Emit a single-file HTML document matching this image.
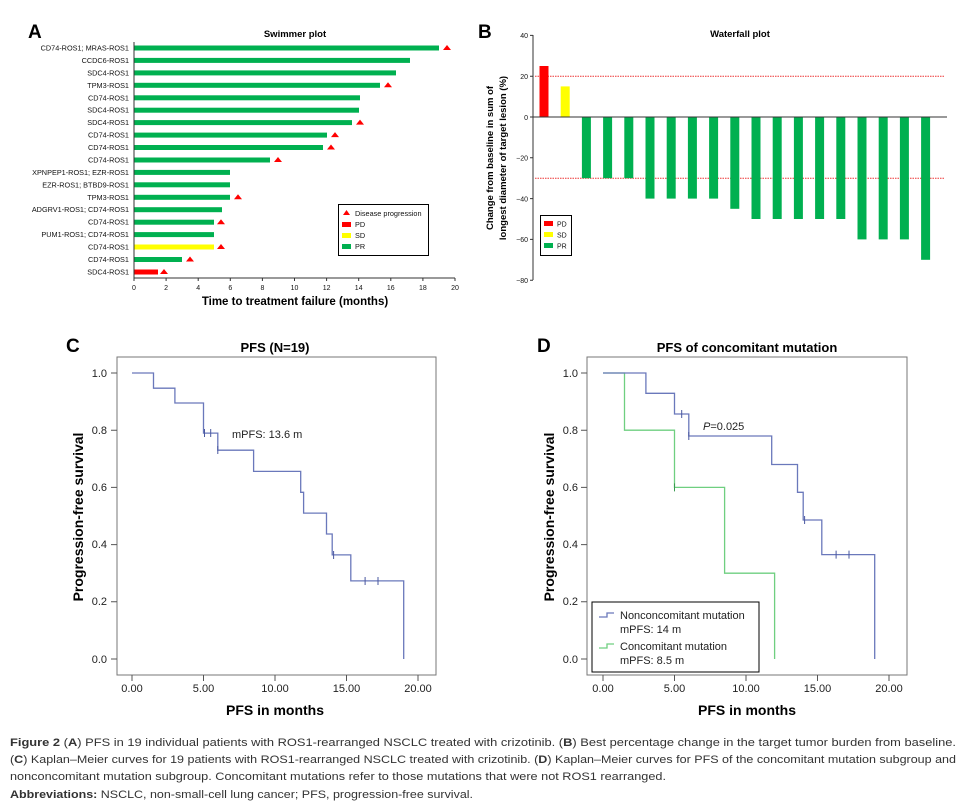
<!DOCTYPE html>
<html><head><meta charset="utf-8"><style>
html,body{margin:0;padding:0;background:#fff;}
svg{display:block;font-family:"Liberation Sans",Arial,sans-serif;}
</style></head><body>
<svg width="966" height="809" viewBox="0 0 966 809" xmlns="http://www.w3.org/2000/svg">
<!-- Panel A -->
<text x="28" y="38" font-size="19" font-weight="bold">A</text>
<text x="295" y="37" font-size="9.5" font-weight="bold" text-anchor="middle">Swimmer plot</text>
<g fill="#00b050">
<rect x="134" y="45.5" width="305" height="5"/>
<rect x="134" y="57.9" width="276" height="5"/>
<rect x="134" y="70.4" width="262" height="5"/>
<rect x="134" y="82.8" width="246" height="5"/>
<rect x="134" y="95.3" width="226" height="5"/>
<rect x="134" y="107.7" width="225" height="5"/>
<rect x="134" y="120.1" width="218" height="5"/>
<rect x="134" y="132.6" width="193" height="5"/>
<rect x="134" y="145" width="189" height="5"/>
<rect x="134" y="157.5" width="136" height="5"/>
<rect x="134" y="169.9" width="96" height="5"/>
<rect x="134" y="182.3" width="96" height="5"/>
<rect x="134" y="194.8" width="96" height="5"/>
<rect x="134" y="207.2" width="88" height="5"/>
<rect x="134" y="219.7" width="80" height="5"/>
<rect x="134" y="232.1" width="80" height="5"/>
<rect x="134" y="257" width="48" height="5"/>
</g>
<rect x="134" y="244.5" width="80" height="5" fill="#ffff00"/>
<rect x="134" y="269.5" width="24" height="5" fill="#ff0000"/>
<g fill="#ff0000">
<polygon points="443,50 451,50 447,45"/>
<polygon points="384,87.3 392,87.3 388,82.3"/>
<polygon points="356,124.6 364,124.6 360,119.6"/>
<polygon points="331,137.1 339,137.1 335,132.1"/>
<polygon points="327,149.5 335,149.5 331,144.5"/>
<polygon points="274,162 282,162 278,157"/>
<polygon points="234,199.3 242,199.3 238,194.3"/>
<polygon points="217,224.2 225,224.2 221,219.2"/>
<polygon points="217,249 225,249 221,244"/>
<polygon points="186,261.5 194,261.5 190,256.5"/>
<polygon points="160,274 168,274 164,269"/>
</g>
<g font-size="7.3" text-anchor="end" fill="#111">
<text x="129" y="50.5">CD74-ROS1; MRAS-ROS1</text>
<text x="129" y="62.9">CCDC6-ROS1</text>
<text x="129" y="75.4">SDC4-ROS1</text>
<text x="129" y="87.8">TPM3-ROS1</text>
<text x="129" y="100.3">CD74-ROS1</text>
<text x="129" y="112.7">SDC4-ROS1</text>
<text x="129" y="125.1">SDC4-ROS1</text>
<text x="129" y="137.6">CD74-ROS1</text>
<text x="129" y="150">CD74-ROS1</text>
<text x="129" y="162.5">CD74-ROS1</text>
<text x="129" y="174.9">XPNPEP1-ROS1; EZR-ROS1</text>
<text x="129" y="187.3">EZR-ROS1; BTBD9-ROS1</text>
<text x="129" y="199.8">TPM3-ROS1</text>
<text x="129" y="212.2">ADGRV1-ROS1; CD74-ROS1</text>
<text x="129" y="224.7">CD74-ROS1</text>
<text x="129" y="237.1">PUM1-ROS1; CD74-ROS1</text>
<text x="129" y="249.5">CD74-ROS1</text>
<text x="129" y="262">CD74-ROS1</text>
<text x="129" y="274.5">SDC4-ROS1</text>
</g>
<g stroke="#333" stroke-width="1">
<line x1="134" y1="42" x2="134" y2="278"/>
<line x1="134" y1="278" x2="455" y2="278"/>
<path d="M134 278v3M166.1 278v3M198.2 278v3M230.3 278v3M262.4 278v3M294.5 278v3M326.6 278v3M358.7 278v3M390.8 278v3M422.9 278v3M455 278v3"/>
</g>
<g font-size="7" text-anchor="middle" fill="#111">
<text x="134" y="290">0</text><text x="166.1" y="290">2</text><text x="198.2" y="290">4</text><text x="230.3" y="290">6</text><text x="262.4" y="290">8</text><text x="294.5" y="290">10</text><text x="326.6" y="290">12</text><text x="358.7" y="290">14</text><text x="390.8" y="290">16</text><text x="422.9" y="290">18</text><text x="455" y="290">20</text>
</g>
<text x="295" y="305" font-size="11.5" font-weight="bold" text-anchor="middle">Time to treatment failure (months)</text>
<rect x="338.5" y="204.5" width="90" height="51" fill="#fff" stroke="#000" stroke-width="1"/>
<polygon points="343,215 350,215 346.5,210" fill="#f00"/>
<rect x="342" y="222" width="9" height="5" fill="#f00"/>
<rect x="342" y="233" width="9" height="5" fill="#ff0"/>
<rect x="342" y="244" width="9" height="5" fill="#00b050"/>
<g font-size="7.3" fill="#111">
<text x="355" y="216">Disease progression</text>
<text x="355" y="227">PD</text>
<text x="355" y="238">SD</text>
<text x="355" y="249">PR</text>
</g>

<!-- Panel B -->
<text x="478" y="38" font-size="19" font-weight="bold">B</text>
<text x="740" y="37" font-size="9.5" font-weight="bold" text-anchor="middle">Waterfall plot</text>
<g stroke="#e33" stroke-width="1" stroke-dasharray="1.5,1">
<line x1="535" y1="76.2" x2="944" y2="76.2"/>
<line x1="535" y1="178.2" x2="944" y2="178.2"/>
</g>
<rect x="539.5" y="66" width="9" height="51" fill="#f00"/>
<rect x="560.7" y="86.4" width="9" height="30.6" fill="#ff0"/>
<g fill="#00b050">
<rect x="581.9" y="117" width="9" height="61.2"/>
<rect x="603.1" y="117" width="9" height="61.2"/>
<rect x="624.3" y="117" width="9" height="61.2"/>
<rect x="645.5" y="117" width="9" height="81.6"/>
<rect x="666.7" y="117" width="9" height="81.6"/>
<rect x="687.9" y="117" width="9" height="81.6"/>
<rect x="709.1" y="117" width="9" height="81.6"/>
<rect x="730.3" y="117" width="9" height="91.8"/>
<rect x="751.5" y="117" width="9" height="102"/>
<rect x="772.7" y="117" width="9" height="102"/>
<rect x="793.9" y="117" width="9" height="102"/>
<rect x="815.1" y="117" width="9" height="102"/>
<rect x="836.3" y="117" width="9" height="102"/>
<rect x="857.5" y="117" width="9" height="122.4"/>
<rect x="878.7" y="117" width="9" height="122.4"/>
<rect x="899.9" y="117" width="9" height="122.4"/>
<rect x="921.1" y="117" width="9" height="142.8"/>
</g>
<g stroke="#333" stroke-width="1">
<line x1="533" y1="35" x2="533" y2="280"/>
<line x1="533" y1="117" x2="947" y2="117"/>
<path d="M530 35.4h3M530 76.2h3M530 117h3M530 157.8h3M530 198.6h3M530 239.4h3M530 280.2h3"/>
</g>
<g font-size="7" text-anchor="end" fill="#111">
<text x="528" y="38">40</text><text x="528" y="79">20</text><text x="528" y="120">0</text><text x="528" y="160.5">−20</text><text x="528" y="201.5">−40</text><text x="528" y="242">−60</text><text x="528" y="283">−80</text>
</g>
<g font-size="9.5" font-weight="bold" text-anchor="middle">
<text transform="translate(493,158) rotate(-90)">Change from baseline in sum of</text>
<text transform="translate(506,158) rotate(-90)">longest diameter of target lesion (%)</text>
</g>
<rect x="540.5" y="215.5" width="31" height="40" fill="#fff" stroke="#000" stroke-width="1"/>
<rect x="544" y="221" width="9" height="5" fill="#f00"/>
<rect x="544" y="232" width="9" height="5" fill="#ff0"/>
<rect x="544" y="243" width="9" height="5" fill="#00b050"/>
<g font-size="7" fill="#111">
<text x="557" y="226.5">PD</text><text x="557" y="237.5">SD</text><text x="557" y="248.5">PR</text>
</g>

<!-- Panel C -->
<text x="66" y="352" font-size="19" font-weight="bold">C</text>
<text x="275" y="352" font-size="13" font-weight="bold" text-anchor="middle">PFS (N=19)</text>
<rect x="117" y="357" width="319" height="318" fill="none" stroke="#777" stroke-width="1"/>
<g stroke="#555" stroke-width="1">
<path d="M111 373h6M111 430.2h6M111 487.4h6M111 544.6h6M111 601.8h6M111 659h6"/>
<path d="M132 675v6M203.5 675v6M275 675v6M346.5 675v6M418 675v6"/>
</g>
<g font-size="11" fill="#222">
<g text-anchor="end"><text x="107" y="377">1.0</text><text x="107" y="434">0.8</text><text x="107" y="491">0.6</text><text x="107" y="548">0.4</text><text x="107" y="605">0.2</text><text x="107" y="663">0.0</text></g>
<g text-anchor="middle"><text x="132" y="692">0.00</text><text x="203.5" y="692">5.00</text><text x="275" y="692">10.00</text><text x="346.5" y="692">15.00</text><text x="418" y="692">20.00</text></g>
</g>
<text x="275" y="715" font-size="14" font-weight="bold" text-anchor="middle">PFS in months</text>
<text transform="translate(83,517) rotate(-90)" font-size="14" font-weight="bold" text-anchor="middle">Progression-free survival</text>
<path d="M132 373H153.5V388.2H174.9V403H203.5V433.1H217.8V450.2H253.6V471.4H300.7V492.3H303.6V513.1H326.5V534H332.2V554.9H350.8V580.9H403.7V659" fill="none" stroke="#6a78bb" stroke-width="1.3"/>
<g stroke="#4a58a0" stroke-width="1">
<path d="M204.5 429v8M210.7 429v8M217.8 446v8M333.6 551v8M365.1 577v8M378 577v8"/>
</g>
<text x="232" y="438" font-size="11" fill="#222">mPFS: 13.6 m</text>

<!-- Panel D -->
<text x="537" y="352" font-size="19" font-weight="bold">D</text>
<text x="747" y="352" font-size="13" font-weight="bold" text-anchor="middle">PFS of concomitant mutation</text>
<rect x="587" y="357" width="320" height="318" fill="none" stroke="#777" stroke-width="1"/>
<g stroke="#555" stroke-width="1">
<path d="M581 373h6M581 430.2h6M581 487.4h6M581 544.6h6M581 601.8h6M581 659h6"/>
<path d="M603 675v6M674.5 675v6M746 675v6M817.5 675v6M889 675v6"/>
</g>
<g font-size="11" fill="#222">
<g text-anchor="end"><text x="578" y="377">1.0</text><text x="578" y="434">0.8</text><text x="578" y="491">0.6</text><text x="578" y="548">0.4</text><text x="578" y="605">0.2</text><text x="578" y="663">0.0</text></g>
<g text-anchor="middle"><text x="603" y="692">0.00</text><text x="674.5" y="692">5.00</text><text x="746" y="692">10.00</text><text x="817.5" y="692">15.00</text><text x="889" y="692">20.00</text></g>
</g>
<text x="747" y="715" font-size="14" font-weight="bold" text-anchor="middle">PFS in months</text>
<text transform="translate(554,517) rotate(-90)" font-size="14" font-weight="bold" text-anchor="middle">Progression-free survival</text>
<path d="M603 373H624.5V430.2H674.5V487.4H724.6V573.2H774.6V659" fill="none" stroke="#6fcf80" stroke-width="1.3"/>
<path d="M603 373H645.9V393.3H674.5V414H688.8V436H771.7V464.5H797.5V492.3H803.2V520H821.8V554.6H874.7V659" fill="none" stroke="#6a78bb" stroke-width="1.3"/>
<g stroke="#4a58a0" stroke-width="1">
<path d="M681.7 410v8M688.8 432v8M804.6 516v8M836.1 550.6v8M849 550.6v8"/>
</g>
<path d="M674.5 483.4v8" stroke="#3a9a50" stroke-width="1"/>
<text x="703" y="430" font-size="11" fill="#222"><tspan font-style="italic">P</tspan>=0.025</text>
<rect x="592" y="602" width="167" height="70" fill="#fff" stroke="#000" stroke-width="1"/>
<path d="M599 617h8v-4h7" fill="none" stroke="#6a78bb" stroke-width="1.3"/>
<path d="M599 648h8v-4h7" fill="none" stroke="#6fcf80" stroke-width="1.3"/>
<g font-size="11" fill="#222">
<text x="620" y="619">Nonconcomitant mutation</text>
<text x="620" y="633">mPFS: 14 m</text>
<text x="620" y="650">Concomitant mutation</text>
<text x="620" y="664">mPFS: 8.5 m</text>
</g>

<!-- Caption -->
<g font-size="11" fill="#333">
<text x="10" y="746" textLength="946" lengthAdjust="spacingAndGlyphs"><tspan font-weight="bold">Figure 2</tspan> (<tspan font-weight="bold">A</tspan>) PFS in 19 individual patients with ROS1-rearranged NSCLC treated with crizotinib. (<tspan font-weight="bold">B</tspan>) Best percentage change in the target tumor burden from baseline.</text>
<text x="10" y="763" textLength="946" lengthAdjust="spacingAndGlyphs">(<tspan font-weight="bold">C</tspan>) Kaplan–Meier curves for 19 patients with ROS1-rearranged NSCLC treated with crizotinib. (<tspan font-weight="bold">D</tspan>) Kaplan–Meier curves for PFS of the concomitant mutation subgroup and</text>
<text x="10" y="780" textLength="656" lengthAdjust="spacingAndGlyphs">nonconcomitant mutation subgroup. Concomitant mutations refer to those mutations that were not ROS1 rearranged.</text>
<text x="10" y="798" textLength="463" lengthAdjust="spacingAndGlyphs"><tspan font-weight="bold">Abbreviations:</tspan> NSCLC, non-small-cell lung cancer; PFS, progression-free survival.</text>
</g>
</svg>
</body></html>
